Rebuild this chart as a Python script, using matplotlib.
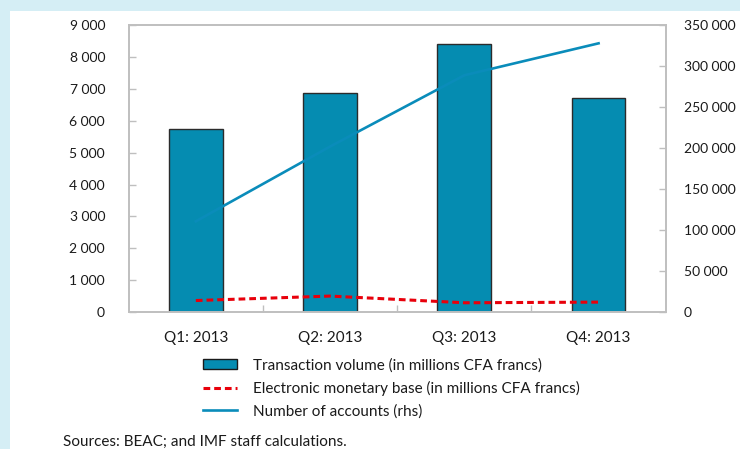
import matplotlib
matplotlib.use("Agg")
import matplotlib.pyplot as plt
from matplotlib.patches import Rectangle, Patch
from matplotlib.lines import Line2D
from matplotlib.ticker import FuncFormatter, MultipleLocator

plt.rcParams['font.family'] = ['Lato', 'DejaVu Sans']
FS, TFS = 11, 10

categories = ["Q1: 2013", "Q2: 2013", "Q3: 2013", "Q4: 2013"]
transaction_volume = [5760, 6890, 8400, 6720]
electronic_base = [360, 500, 290, 310]
number_accounts = [110700, 202000, 289000, 328000]

W, H = 740, 449
fig = plt.figure(figsize=(W / 100, H / 100), dpi=100)
fig.patch.set_facecolor('#d5eef5')
fig.patches.append(Rectangle((10 / W, 0), 1 - 10 / W, 1 - 11 / H, transform=fig.transFigure,
                             facecolor='white', edgecolor='none', zorder=-10))

left, right, top, bottom = 128.7, 665.7, 25.3, 312.0
ax = fig.add_axes([left / W, 1 - bottom / H, (right - left) / W, (bottom - top) / H])
ax.set_facecolor('none')

x = list(range(len(categories)))
bar_color = '#058cb1'
ax.bar(x, transaction_volume, width=0.4, color=bar_color, edgecolor='#2b2b2b', linewidth=1.0, zorder=1)
ax.plot(x, electronic_base, color='#e8000b', linewidth=2.2, linestyle=(0, (2.2, 1.3)), zorder=3)

ax.set_xlim(-0.5, 3.5)
ax.set_ylim(0, 9000)
ax.yaxis.set_major_locator(MultipleLocator(1000))
fmt = FuncFormatter(lambda v, p: f"{v:,.0f}".replace(",", " "))
ax.yaxis.set_major_formatter(fmt)

ax.set_xticks([0.5, 1.5, 2.5])
ax.set_xticklabels([])
ax.set_xticks(x, minor=True)
ax.set_xticklabels(categories, minor=True)
ax.tick_params(axis='x', which='major', direction='in', length=5, color='#bfbfbf', width=1)
ax.tick_params(axis='x', which='minor', length=0, pad=14, labelsize=FS, labelcolor='#1a1a1a')
ax.tick_params(axis='y', direction='in', length=5, color='#bfbfbf', width=1, pad=17,
               labelsize=TFS, labelcolor='#1a1a1a')

for s in ax.spines.values():
    s.set_color('#bfbfbf')
    s.set_linewidth(1.2)

ax2 = ax.twinx()
ax2.plot(x, number_accounts, color='#0a8cba', linewidth=1.9, zorder=4)
ax2.set_ylim(0, 350000)
ax2.yaxis.set_major_locator(MultipleLocator(50000))
ax2.yaxis.set_major_formatter(fmt)
ax2.tick_params(axis='y', direction='in', length=5, color='#bfbfbf', width=1, pad=13,
                labelsize=TFS, labelcolor='#1a1a1a')
for s in ax2.spines.values():
    s.set_color('#bfbfbf')
    s.set_linewidth(1.2)

handles = [
    Patch(facecolor=bar_color, edgecolor='#1a1a1a', linewidth=1.0),
    Line2D([], [], color='#e8000b', linewidth=2.2, linestyle=(0, (2.2, 1.3))),
    Line2D([], [], color='#0a8cba', linewidth=1.9),
]
labels = ["Transaction volume (in millions CFA francs)",
          "Electronic monetary base (in millions CFA francs)",
          "Number of accounts (rhs)"]
fig.legend(handles, labels, loc='upper left', bbox_to_anchor=(202.7 / W, 1 - 358 / H),
           frameon=False, fontsize=FS, handlelength=34 / (FS * 1.389), handleheight=0.65,
           handletextpad=16 / (FS * 1.389),
           labelspacing=0.55, borderpad=0, borderaxespad=0, labelcolor='#1a1a1a')

fig.text(63 / W, 1 - 442 / H, "Sources: BEAC; and IMF staff calculations.", fontsize=FS,
         color='#1a1a1a', va='center', ha='left')

fig.savefig("out.png", dpi=100, facecolor=fig.get_facecolor())
